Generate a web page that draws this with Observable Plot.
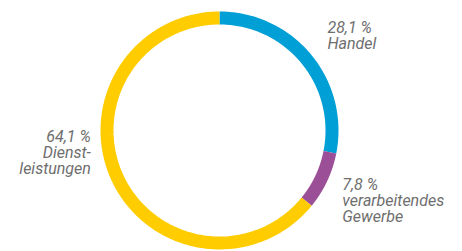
<!DOCTYPE html>
<html>
<head>
<meta charset="utf-8">
<script src="https://cdn.jsdelivr.net/npm/d3@7"></script>
<script src="https://cdn.jsdelivr.net/npm/@observablehq/plot@0.6"></script>
<style>
  html, body { margin: 0; padding: 0; background: #fff; }
</style>
</head>
<body>
<div id="chart"></div>
<script>
const categories = ["Handel", "verarbeitendes Gewerbe", "Dienstleistungen"];
const values = [28.1, 7.8, 64.1];
const labels = ["28,1 %\nHandel", "7,8 %\nverarbeitendes\nGewerbe", "64,1 %\nDienst-\nleistungen"];
const colors = ["#009fd5", "#9b4f96", "#ffcc00"];

const rows = categories.map((c, i) => ({category: c, value: values[i], label: labels[i]}));
const arcs = d3.pie().sort(null).value(d => d.value)(rows);

// sample points along each arc (derived from the pie angles)
const pts = [];
for (const a of arcs) {
  const n = 120;
  for (let k = 0; k <= n; k++) {
    const t = a.startAngle + (a.endAngle - a.startAngle) * k / n;
    pts.push({category: a.data.category, x: Math.sin(t), y: Math.cos(t)});
  }
}
const mids = arcs.map(a => {
  const m = (a.startAngle + a.endAngle) / 2;
  return {label: a.data.label, x: Math.sin(m), y: Math.cos(m)};
});

const cx = 219, cy = 130, r = 112.5;
const textStyle = {fill: "#6e6e6e", fontSize: 16, fontWeight: 400, fontStyle: "italic", lineHeight: 1.0, lineAnchor: "top"};

const chart = Plot.plot({
  width: 462,
  height: 251,
  margin: 0,
  x: {domain: [-1, 1], range: [cx - r, cx + r], axis: null},
  y: {domain: [-1, 1], range: [cy + r, cy - r], axis: null},
  color: {domain: categories, range: colors},
  style: {fontFamily: "Roboto, 'Liberation Sans', sans-serif", background: "#fff"},
  marks: [
    Plot.line(pts, {x: "x", y: "y", z: "category", stroke: "category", strokeWidth: 13, strokeLinecap: "butt", strokeLinejoin: "round"}),
    Plot.text([mids[0]], {x: "x", y: "y", text: "label", textAnchor: "start", dx: 21, dy: -37, ...textStyle}),
    Plot.text([mids[1]], {x: "x", y: "y", text: "label", textAnchor: "start", dx: 21, dy: 0, ...textStyle}),
    Plot.text([mids[2]], {x: "x", y: "y", text: "label", textAnchor: "end", dx: -27, dy: -48, ...textStyle})
  ]
});
document.getElementById("chart").appendChild(chart);
</script>
</body>
</html>
